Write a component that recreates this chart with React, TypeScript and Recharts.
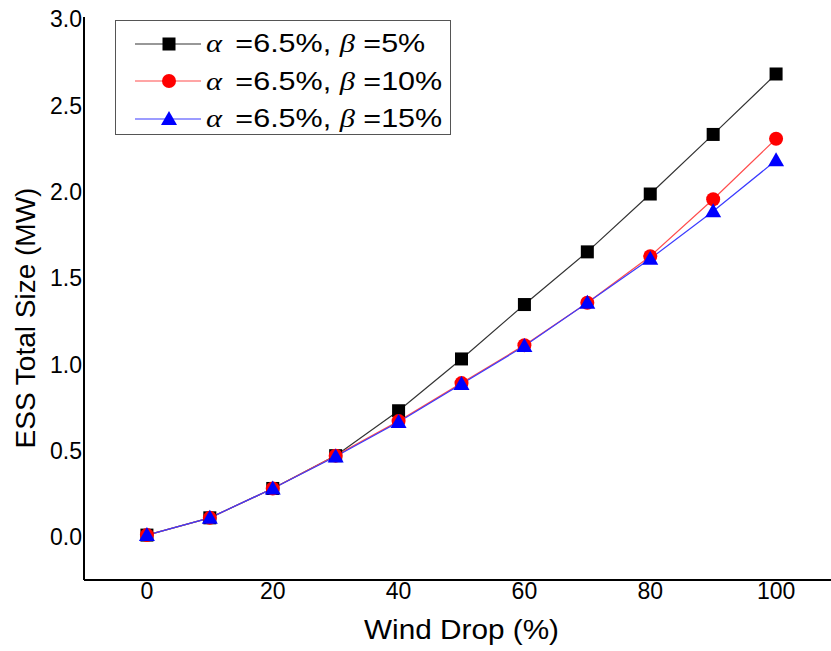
import { LineChart, Line, XAxis, YAxis, Legend } from 'recharts'

const windDrop = [0, 10, 20, 30, 40, 50, 60, 70, 80, 90, 100]
const beta5 = [0, 0.1, 0.27, 0.46, 0.72, 1.02, 1.335, 1.64, 1.975, 2.32, 2.67]
const beta10 = [0, 0.1, 0.27, 0.46, 0.66, 0.88, 1.1, 1.345, 1.615, 1.945, 2.295]
const beta15 = [0, 0.1, 0.27, 0.455, 0.655, 0.875, 1.095, 1.345, 1.6, 1.875, 2.17]
const xTicks = [0, 20, 40, 60, 80, 100]
const yTicks = [0, 0.5, 1, 1.5, 2, 2.5, 3]

const seriesInfo = [
  { key: 'b5', beta: '5%', line: '#333333', mark: '#000000', shape: 'square' },
  { key: 'b10', beta: '10%', line: '#ff4d4d', mark: '#ff0000', shape: 'circle' },
  { key: 'b15', beta: '15%', line: '#3b3bff', mark: '#0000ff', shape: 'triangle' },
]

const data = windDrop.map((x, i) => ({ x, b5: beta5[i], b10: beta10[i], b15: beta15[i] }))

const FONT = '"Liberation Sans", Arial, sans-serif'
const SERIF = '"Liberation Serif", "DejaVu Serif", serif'

function Marker({ shape, color, cx, cy }: { shape: string; color: string; cx: number; cy: number }) {
  if (shape === 'square') return <rect x={cx - 6.5} y={cy - 6.5} width={13} height={13} fill={color} />
  if (shape === 'circle') return <circle cx={cx} cy={cy} r={7} fill={color} />
  return <path d={`M${cx},${cy - 8} L${cx + 8},${cy + 6} L${cx - 8},${cy + 6} Z`} fill={color} />
}

const makeDot = (shape: string, color: string) => (props: any) => {
  const { cx, cy, index } = props
  if (cx == null || cy == null) return <g key={index} />
  return <Marker key={index} shape={shape} color={color} cx={cx} cy={cy} />
}

function LegendBox() {
  return (
    <div
      style={{
        boxSizing: 'border-box',
        width: 336,
        height: 115,
        border: '1.5px solid #555',
        background: '#fff',
        padding: '4px 0 0 19px',
        fontFamily: FONT,
        fontSize: 25,
        color: '#000',
      }}
    >
      {seriesInfo.map((s) => (
        <div key={s.key} style={{ display: 'flex', alignItems: 'center', whiteSpace: 'nowrap', height: 37.5 }}>
          <svg width={66} height={30} style={{ marginRight: 5, flexShrink: 0 }}>
            <line x1={0} y1={15} x2={66} y2={15} stroke={s.line} strokeWidth={1.2} />
            <Marker shape={s.shape} color={s.mark} cx={34} cy={15} />
          </svg>
          <span style={{ display: 'inline-block', transform: 'scaleX(1.22)', transformOrigin: 'left center' }}>
            <span style={{ fontFamily: SERIF, fontStyle: 'italic', marginRight: 4 }}>α</span> =6.5%,{' '}
            <span style={{ fontFamily: SERIF, fontStyle: 'italic' }}>β</span> ={s.beta}
          </span>
        </div>
      ))}
    </div>
  )
}

function YLabel() {
  const cx = 25
  const cy = 318
  return (
    <text x={cx} y={cy} transform={`rotate(-90, ${cx}, ${cy})`} textAnchor="middle" dominantBaseline="central"
      fontFamily={FONT} fontSize={28} fill="#000">
      ESS Total Size (MW)
    </text>
  )
}

function XLabel(props: any) {
  const { viewBox } = props
  return (
    <text x={viewBox.x + viewBox.width / 2} y={639} textAnchor="middle" fontFamily={FONT} fontSize={27}
      textLength={195} lengthAdjust="spacingAndGlyphs" fill="#000">
      Wind Drop (%)
    </text>
  )
}

export default function App() {
  return (
    <div style={{ position: 'absolute', left: 0, top: 0, width: 831, height: 651, overflow: 'hidden', background: '#fff' }}>
      <LineChart width={840} height={651} data={data} margin={{ top: 17, right: 1, bottom: 0, left: 0 }}>
        <XAxis
          dataKey="x"
          type="number"
          domain={[-10, 110]}
          ticks={xTicks}
          tickLine={false}
          tickSize={0}
          tickMargin={3}
          height={71}
          axisLine={{ stroke: '#000', strokeWidth: 2 }}
          tick={{ fontFamily: FONT, fontSize: 23, fill: '#000' }}
          label={<XLabel />}
        />
        <YAxis
          type="number"
          domain={[-0.26, 3]}
          ticks={yTicks}
          tickFormatter={(v: number) => v.toFixed(1)}
          tickLine={false}
          tickSize={0}
          tickMargin={2}
          width={84}
          axisLine={{ stroke: '#000', strokeWidth: 2 }}
          tick={{ fontFamily: FONT, fontSize: 23, fill: '#000', dy: 2 }}
          label={<YLabel />}
        />
        <Legend
          layout="vertical"
          align="center"
          verticalAlign="middle"
          wrapperStyle={{ left: 115, top: 20, width: 'auto' }}
          content={<LegendBox />}
        />
        {seriesInfo.map((s) => (
          <Line
            key={s.key}
            dataKey={s.key}
            stroke={s.line}
            strokeWidth={1.2}
            dot={makeDot(s.shape, s.mark)}
            activeDot={false}
            isAnimationActive={false}
          />
        ))}
      </LineChart>
    </div>
  )
}
